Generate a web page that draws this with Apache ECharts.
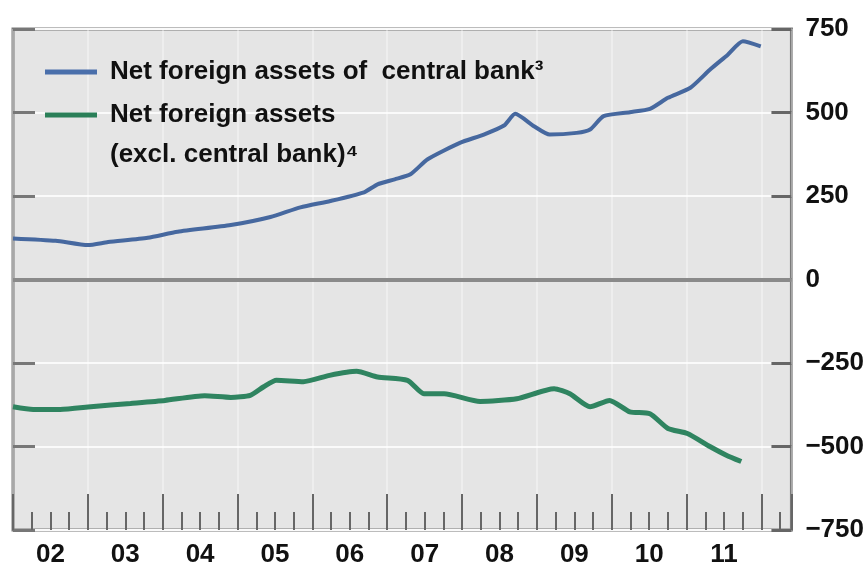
<!DOCTYPE html>
<html>
<head>
<meta charset="utf-8">
<script src="https://cdn.jsdelivr.net/npm/echarts@6/dist/echarts.min.js"></script>
<style>
html,body{margin:0;padding:0;background:#fff;}
#chart{width:867px;height:568px;}
</style>
</head>
<body>
<div id="chart"></div>
<script>
// ---- data (decimal years, USD bn) ----
const blueName = 'Net foreign assets of  central bank\u00B3';
const greenName = 'Net foreign assets (excl. central bank)\u2074';

const blueDates  = [2002.0, 2002.57, 2003.0, 2003.27, 2003.8, 2004.2, 2004.91, 2005.44, 2005.84, 2006.24, 2006.69, 2006.87, 2007.1, 2007.31, 2007.54, 2007.97, 2008.29, 2008.56, 2008.71, 2008.96, 2009.17, 2009.53, 2009.71, 2009.89, 2010.24, 2010.51, 2010.75, 2011.05, 2011.31, 2011.55, 2011.75, 2011.99];
const blueValues = [123, 116, 103, 112, 125, 143, 163, 187, 216, 235, 261, 285, 300, 315, 360, 409, 434, 461, 496, 459, 434, 439, 449, 489, 501, 511, 544, 574, 628, 673, 713, 698];

const greenDates  = [2002.0, 2002.27, 2002.63, 2003.04, 2003.57, 2004.03, 2004.56, 2004.91, 2005.17, 2005.35, 2005.52, 2005.88, 2006.23, 2006.59, 2006.87, 2007.27, 2007.49, 2007.76, 2008.24, 2008.73, 2009.23, 2009.44, 2009.71, 2009.97, 2010.24, 2010.51, 2010.75, 2011.01, 2011.31, 2011.53, 2011.73];
const greenValues = [-381, -389, -389, -381, -371, -362, -348, -353, -347, -321, -302, -306, -287, -275, -292, -302, -342, -342, -365, -357, -327, -342, -381, -362, -396, -402, -446, -461, -500, -526, -545];

const yearLabels = ['02', '03', '04', '05', '06', '07', '08', '09', '10', '11'];
const firstYear = 2002;
const yMin = -750, yMax = 750, yStep = 250;

// ---- chart ----
const FONT = '"Liberation Sans", Arial, sans-serif';
const xMin = 2002, xMax = 2012.4;
const pairs = (xs, ys) => xs.map((x, i) => [x, ys[i]]);

const chart = echarts.init(document.getElementById('chart'), null, {renderer: 'canvas'});

const baseX = {
  type: 'value', min: xMin, max: xMax, position: 'bottom',
  axisLine: {show: false, onZero: false}, splitLine: {show: false}
};

chart.setOption({
  animation: false,
  backgroundColor: '#ffffff',
  grid: {
    left: 13, right: 74, top: 29, bottom: 37,
    show: true, backgroundColor: '#e5e5e5', borderColor: '#7a7a7a', borderWidth: 3
  },
  legend: [
    {
      data: [blueName], orient: 'vertical', left: 45, top: 52, padding: 0,
      itemWidth: 52, itemHeight: 5, icon: 'rect',
      textStyle: {fontFamily: FONT, fontWeight: 'bold', fontSize: 26, color: '#111', lineHeight: 40, padding: [0, 0, 0, 8]}
    },
    {
      data: [greenName], orient: 'vertical', left: 45, top: 55, padding: 0,
      itemWidth: 52, itemHeight: 5, icon: 'rect',
      formatter: name => '\n' + name.replace(' (', '\n('),
      textStyle: {fontFamily: FONT, fontWeight: 'bold', fontSize: 26, color: '#111', lineHeight: 40, padding: [0, 0, 0, 8]}
    }
  ],
  xAxis: [
    Object.assign({}, baseX, {
      interval: 0.25,
      axisTick: {show: true, inside: true, length: 18, lineStyle: {color: '#666', width: 2}},
      axisLabel: {show: false}
    }),
    Object.assign({}, baseX, {
      interval: 1,
      axisTick: {show: true, inside: true, length: 36, lineStyle: {color: '#666', width: 2}},
      axisLabel: {show: false},
      splitLine: {show: true, lineStyle: {color: 'rgba(255,255,255,0.35)', width: 2}}
    }),
    Object.assign({}, baseX, {
      interval: 0.5,
      axisTick: {show: false},
      axisLabel: {
        show: true, margin: 12, fontFamily: FONT, fontWeight: 'bold', fontSize: 26, color: '#111',
        formatter: v => {
          const f = v - Math.floor(v);
          if (Math.abs(f - 0.5) > 0.01) return '';
          const idx = Math.floor(v) - firstYear;
          return yearLabels[idx] || '';
        }
      }
    })
  ],
  yAxis: [
    {
      type: 'value', position: 'right', min: yMin, max: yMax, interval: yStep,
      axisLine: {show: false, onZero: false},
      axisTick: {show: true, inside: true, length: 20, lineStyle: {color: '#666', width: 3}},
      axisLabel: {
        show: true, margin: 14, fontFamily: FONT, fontWeight: 'bold', fontSize: 26, color: '#111',
        formatter: v => v < 0 ? '\u2212' + Math.abs(v) : String(v)
      },
      splitLine: {show: true, lineStyle: {color: '#fafafa', width: 2}}
    },
    {
      type: 'value', position: 'left', min: yMin, max: yMax, interval: yStep,
      axisLine: {show: false, onZero: false},
      axisTick: {show: true, inside: true, length: 22, lineStyle: {color: '#777', width: 3}},
      axisLabel: {show: false},
      splitLine: {show: false}
    }
  ],
  series: [
    {
      name: blueName, type: 'line', xAxisIndex: 0, yAxisIndex: 0,
      data: pairs(blueDates, blueValues),
      showSymbol: false, smooth: 0.2,
      lineStyle: {color: '#46689f', width: 4},
      itemStyle: {color: '#4a6fab'},
      markLine: {
        silent: true, symbol: ['none', 'none'], label: {show: false},
        lineStyle: {color: '#8a8a8a', width: 4, type: 'solid'},
        data: [{yAxis: 0}]
      },
      z: 3
    },
    {
      name: greenName, type: 'line', xAxisIndex: 0, yAxisIndex: 0,
      data: pairs(greenDates, greenValues),
      showSymbol: false, smooth: 0.2,
      lineStyle: {color: '#2f8460', width: 5},
      itemStyle: {color: '#2a7f58'},
      z: 3
    }
  ]
});
</script>
</body>
</html>
